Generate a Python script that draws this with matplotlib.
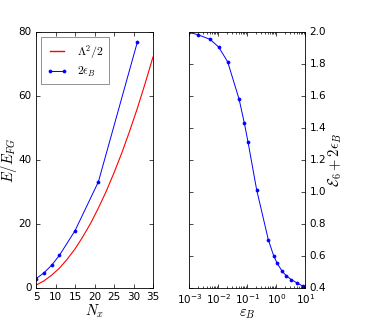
import numpy as np
import matplotlib
matplotlib.use("Agg")
import matplotlib.pyplot as plt

# left panel: energy vs N_x
nx_red = [5, 7, 9, 11, 13, 15, 17, 19, 21, 23, 25, 27, 29, 31, 33, 35]
lam_half = [0.9, 2.2, 4.0, 6.2, 9.0, 12.2, 16.0, 20.2, 25.0, 30.2, 36.0, 42.2, 49.0, 56.2, 64.0, 72.2]
nx_blue = [5, 7, 9, 11, 15, 21, 31]
two_eb = [2.9, 4.7, 7.1, 10.2, 17.9, 33.2, 76.9]

# right panel: E6 + 2 eps_B vs eps_B
eps_b = [0.001, 0.002, 0.0052, 0.0103, 0.021, 0.052, 0.079, 0.106, 0.21, 0.53,
         0.81, 1.06, 1.6, 2.2, 3.3, 5.3, 8.5, 10.0]
e6_sum = [1.997, 1.983, 1.954, 1.906, 1.814, 1.581, 1.431, 1.312, 1.014, 0.702,
          0.602, 0.556, 0.504, 0.477, 0.452, 0.431, 0.41, 0.406]

plt.style.use("classic")
plt.rcParams["mathtext.fontset"] = "cm"
plt.rcParams["xtick.labelsize"] = 7.5
plt.rcParams["ytick.labelsize"] = 7.5
plt.rcParams["xtick.major.size"] = 3
plt.rcParams["ytick.major.size"] = 3
plt.rcParams["xtick.minor.size"] = 1.5
plt.rcParams["ytick.minor.size"] = 1.5
plt.rcParams["axes.linewidth"] = 0.6

fig = plt.figure(figsize=(3.65, 3.22), dpi=100, facecolor="white")
ax1 = fig.add_axes([36 / 365, 1 - 288 / 322, 117 / 365, 256 / 322])
ax2 = fig.add_axes([189.3 / 365, 1 - 288 / 322, 116 / 365, 256 / 322])

ax1.plot(nx_red, lam_half, color="red", ls="-", lw=0.8, label=r"$\Lambda^2/2$")
ax1.plot(nx_blue, two_eb, "b-", lw=0.7, marker="o", ms=2.2, mec="b",
         label=r"$2\epsilon_B$")
ax1.set_xlim(5, 35)
ax1.set_ylim(0, 80)
ax1.set_xticks(range(5, 36, 5))
ax1.set_yticks(range(0, 81, 20))
ax1.set_xlabel(r"$N_x$", fontsize=10.5, labelpad=0)
ax1.set_ylabel(r"$E/E_{FG}$", fontsize=10.5, labelpad=0)
ax1.tick_params(pad=3)
leg = ax1.legend(loc="upper left", fontsize=8.5, numpoints=2, handlelength=1.8,
                 borderaxespad=0.45, borderpad=0.45, labelspacing=0.35,
                 handletextpad=0.8)
leg.get_frame().set_edgecolor("0.5")
leg.get_frame().set_linewidth(0.6)
leg.get_lines()[0].set_color("red")
leg.get_lines()[0].set_linewidth(1.0)

ax2.semilogx(eps_b, e6_sum, "b-", lw=0.7, marker="o", ms=2.2, mec="b")
ax2.set_xlim(1e-3, 1e1)
ax2.set_ylim(0.4, 2.0)
ax2.set_yticks(np.arange(0.4, 2.01, 0.2))
ax2.yaxis.tick_right()
ax2.yaxis.set_ticks_position("both")
ax2.yaxis.set_label_position("right")
ax2.set_xlabel(r"$\varepsilon_B$", fontsize=10.5, labelpad=0)
ax2.set_ylabel(r"$\mathcal{E}_6+2\epsilon_B$", fontsize=10.5, labelpad=0)
ax2.tick_params(pad=3)
ax2.tick_params(axis="y", labelleft=False, labelright=True)

fig.savefig("out.png", dpi=100, facecolor="white")
